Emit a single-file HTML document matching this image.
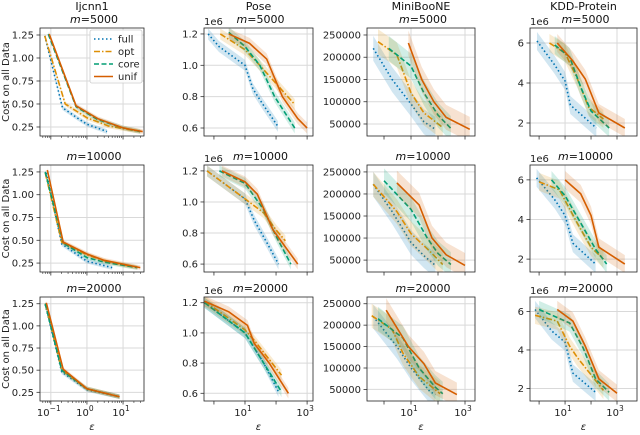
<!DOCTYPE html>
<html><head><meta charset="utf-8"><style>
body{margin:0;background:#fff}
svg{display:block;font-family:"DejaVu Sans","Liberation Sans",sans-serif}
</style></head><body>
<svg id="chart" width="640" height="435" viewBox="0 0 640 435" xmlns="http://www.w3.org/2000/svg"></svg>
<script>
// ---- data (eps values, cost values), panel index = row*4+col ----
const datasets = ["Ijcnn1","Pose","MiniBooNE","KDD-Protein"];
const mValues = ["5000","10000","20000"];
const seriesNames = ["full","opt","core","unif"];
const fullX = [
 [0.068,0.21,0.53,1.0,3.6],[0.65,1.45,10,18,38,115],[0.4,2,10,30,80],[0.83,4,10,16,160],
 [0.075,0.2,1,5],[0.6,10,20,50,120],[0.4,2,10,30,80],[0.8,4,10,20,150],
 [0.07,0.2,1,8],[0.5,10,40,120],[0.4,3,10,50,80],[0.7,3,10,20,150]];
const fullY = [
 [1.24,0.46,0.35,0.28,0.2],[1.2,1.12,1.0,0.85,0.75,0.61],[220000,150000,95000,55000,38000],[6.1,4.9,4.1,2.9,1.75],
 [1.24,0.46,0.27,0.2],[1.2,1.02,0.88,0.74,0.6],[222000,160000,90000,60000,38000],[6.1,5.0,4.2,2.8,1.75],
 [1.24,0.48,0.28,0.2],[1.2,1.0,0.8,0.61],[220000,150000,100000,45000,38000],[6.1,5.0,4.4,2.8,1.8]];
const optX = [
 [0.068,0.25,1,4,30],[1.6,10,30,400],[0.6,3,10,30,150],[2.5,10,30,80,300],
 [0.07,0.2,1,4,25],[0.6,10,40,100,200],[0.4,3,10,50,150],[1,6,30,100,300],
 [0.07,0.2,1,8],[0.5,10,20,150],[0.35,2,5,20,120],[0.7,5,15,30,300]];
const optY = [
 [1.24,0.5,0.35,0.26,0.2],[1.2,1.1,1.0,0.75],[235000,205000,120000,75000,42000],[6.0,5.5,4.2,2.8,2.2],
 [1.24,0.48,0.34,0.26,0.2],[1.2,1.02,0.93,0.82,0.75],[222000,160000,110000,70000,40000],[5.9,5.5,3.8,2.6,2.0],
 [1.25,0.5,0.29,0.2],[1.21,1.02,0.95,0.72],[222000,190000,135000,80000,40000],[5.8,5.5,4.2,3.6,1.9]];
const coreX = [
 [0.085,0.5,2,10,30],[3,10,30,90,400],[1.5,10,30,100,300],[4,15,40,100,500],
 [0.07,0.22,1,3,25],[1.5,10,40,100,300],[1,10,40,100,300],[3,10,50,150,400],
 [0.07,0.2,1,8],[0.5,10,40,150],[0.6,5,20,80,150],[1,15,50,150,500]];
const coreY = [
 [1.26,0.47,0.33,0.24,0.2],[1.21,1.12,1.0,0.8,0.6],[220000,180000,120000,70000,40000],[5.9,5.3,3.8,2.6,1.75],
 [1.25,0.47,0.31,0.26,0.2],[1.2,1.12,0.95,0.78,0.6],[230000,165000,100000,65000,40000],[6.0,5.2,3.6,2.5,1.75],
 [1.25,0.5,0.29,0.2],[1.2,1.0,0.8,0.61],[215000,170000,100000,55000,40000],[6.1,5.4,4.1,2.5,1.8]];
const unifX = [
 [0.09,0.5,2,10,35],[3,14,50,160,500,1000],[8,25,70,200,1500],[5,20,60,200,2000],
 [0.08,0.22,1,3,30],[1.8,10,25,80,500],[3,20,60,200,1000],[10,40,100,200,2000],
 [0.075,0.22,1,8],[0.5,3,12,20,60,250],[1.2,8,30,80,500],[5,20,60,200,1000]];
const unifY = [
 [1.26,0.48,0.34,0.24,0.2],[1.2,1.14,1.04,0.8,0.66,0.6],[232000,150000,100000,65000,38000],[6.0,5.1,4.2,2.5,1.75],
 [1.27,0.48,0.35,0.28,0.2],[1.2,1.13,1.05,0.82,0.6],[225000,175000,100000,62000,38000],[6.0,5.3,4.2,2.6,1.75],
 [1.26,0.51,0.29,0.2],[1.21,1.14,1.05,0.93,0.8,0.6],[235000,150000,110000,65000,38000],[6.1,5.5,4.2,2.5,1.75]];
const yTicks = [[0.25,0.5,0.75,1.0,1.25],[0.6,0.8,1.0,1.2],[50000,100000,150000,200000,250000],[2,4,6]];
const yTickLabels = [["0.25","0.50","0.75","1.00","1.25"],["0.6","0.8","1.0","1.2"],["50000","100000","150000","200000","250000"],["2","4","6"]];
const xTickExps = [[-1,0,1],[1,3],[1,3],[1,3]];

// ---- layout ----
const colL=[40,204,367,530], colR=[144,313,475,637];
const rowT=[28,165,297], rowB=[136,272,401];
const xDom=[[-1.3,1.58],[-0.32,3.19],[-0.63,3.37],[-0.35,3.77]];
const yDom=[[0.152,1.326],[0.549,1.238],[23000,265700],[1.35,6.75]];
const bandW=[0.025,0.035,28000,0.45];
const colors={full:"#0173b2",opt:"#de8f05",core:"#029e73",unif:"#d55e00"};
const dashes={full:"1.5,2.5",opt:"6,2,1.5,2",core:"5,2.5",unif:""};
const svg=document.getElementById('chart');
const NS="http://www.w3.org/2000/svg";
function mk(tag,attrs,parent){const e=document.createElementNS(NS,tag);for(const k in attrs)e.setAttribute(k,attrs[k]);(parent||svg).appendChild(e);return e;}
function xs(c,v){const d=xDom[c];return colL[c]+(Math.log10(v)-d[0])/(d[1]-d[0])*(colR[c]-colL[c]);}
function ys(c,r,v){const d=yDom[c];return rowB[r]-(v-d[0])/(d[1]-d[0])*(rowB[r]-rowT[r]);}
const allX={full:fullX,opt:optX,core:coreX,unif:unifX};
const allY={full:fullY,opt:optY,core:coreY,unif:unifY};

for(let r=0;r<3;r++)for(let c=0;c<4;c++){
 const p=r*4+c;
 const g=mk('g',{});
 
 
 const L=colL[c],R=colR[c],T=rowT[r],B=rowB[r];
 const cid='clip'+p;
 const cp=mk('clipPath',{id:cid},g);mk('rect',{x:L,y:T,width:R-L,height:B-T},cp);
 yTicks[c].forEach(v=>{const y=ys(c,r,v);mk('line',{x1:L,x2:R,y1:y,y2:y,stroke:'#d9d9d9','stroke-width':1},g);
   mk('line',{x1:L-3.5,x2:L,y1:y,y2:y,stroke:'#333','stroke-width':0.8},g);});
 const [d0,d1]=xDom[c];
 for(let e=Math.floor(d0);e<=Math.ceil(d1);e++){
   if(e>=d0&&e<=d1){const x=xs(c,Math.pow(10,e));
     if(xTickExps[c].includes(e)){mk('line',{x1:x,x2:x,y1:T,y2:B,stroke:'#d9d9d9','stroke-width':1},g);}
     mk('line',{x1:x,x2:x,y1:B,y2:B+3.5,stroke:'#333','stroke-width':0.8},g);}
   if(c===0){for(let k=2;k<10;k++){const lv=e+Math.log10(k);if(lv>d0&&lv<d1){const x=xs(c,Math.pow(10,lv));mk('line',{x1:x,x2:x,y1:B,y2:B+2,stroke:'#333','stroke-width':0.6},g);}}}
 }
 seriesNames.forEach(s=>{
   const X=allX[s][p],Y=allY[s][p];
   let up=[],dn=[];
   X.forEach((xv,i)=>{up.push(xs(c,xv)+','+ys(c,r,Y[i]+bandW[c]));dn.unshift(xs(c,xv)+','+ys(c,r,Y[i]-bandW[c]));});
   const band=mk('polygon',{points:up.concat(dn).join(' '),fill:colors[s],'fill-opacity':0.18,'clip-path':'url(#'+cid+')'},g);
   
   
   const pts=X.map((xv,i)=>xs(c,xv)+','+ys(c,r,Y[i])).join(' ');
   const ln=mk('polyline',{points:pts,fill:'none',stroke:colors[s],'stroke-width':1.6,'stroke-dasharray':dashes[s],'clip-path':'url(#'+cid+')'},g);
   
   
 });
 mk('rect',{x:L,y:T,width:R-L,height:B-T,fill:'none',stroke:'#222','stroke-width':0.8},g);
 yTicks[c].forEach((v,i)=>{const t=mk('text',{x:L-6,y:ys(c,r,v)+3.5,'text-anchor':'end','font-size':10,fill:'#222'},g);t.textContent=yTickLabels[c][i];});
 if(c===1||c===3){const t=mk('text',{x:L,y:T-3,'font-size':10,fill:'#222'},g);t.textContent='1e6';}
 if(r===0){const t=mk('text',{x:(L+R)/2,y:T-18,'text-anchor':'middle','font-size':11,fill:'#111'},g);t.textContent=datasets[c];
   }
 const mt=mk('text',{x:(L+R)/2+2,y:T-5,'text-anchor':'middle','font-size':11,fill:'#111'},g);
 
 
 const mi=mk('tspan',{'font-style':'italic'},mt);mi.textContent='m';
 const mr=mk('tspan',{},mt);mr.textContent='='+mValues[r];
 if(c===0){const yl=mk('text',{x:0,y:0,transform:'translate(9,'+((T+B)/2)+') rotate(-90)','text-anchor':'middle','font-size':10,fill:'#222'},g);
   yl.textContent='Cost on all Data';
   
   }
 if(r===2){
   xTickExps[c].forEach(e=>{const x=xs(c,Math.pow(10,e));const t=mk('text',{x:x-2,y:B+15,'text-anchor':'middle','font-size':10,fill:'#222'},g);
     t.appendChild(document.createTextNode('10'));const sp=mk('tspan',{dy:-5,'font-size':7.5},t);sp.textContent=(e<0?'\u2212':'')+Math.abs(e);});
   const xl=mk('text',{x:(L+R)/2,y:B+29,'text-anchor':'middle','font-size':10,'font-style':'italic',fill:'#222'},g);
   xl.textContent='ε';
   
   
 }
}
const lg=mk('g',{});


mk('rect',{x:90,y:30,width:52,height:53,rx:2,fill:'#fff','fill-opacity':0.85,stroke:'#ccc','stroke-width':0.8},lg);
seriesNames.forEach((s,i)=>{const y=39+i*12.5;
 const l=mk('line',{x1:94,x2:113,y1:y,y2:y,stroke:colors[s],'stroke-width':1.6,'stroke-dasharray':dashes[s]},lg);
 
 
 const t=mk('text',{x:118,y:y+3.5,'font-size':10,fill:'#222'},lg);t.textContent=s;
 
 });
</script>
</body></html>
